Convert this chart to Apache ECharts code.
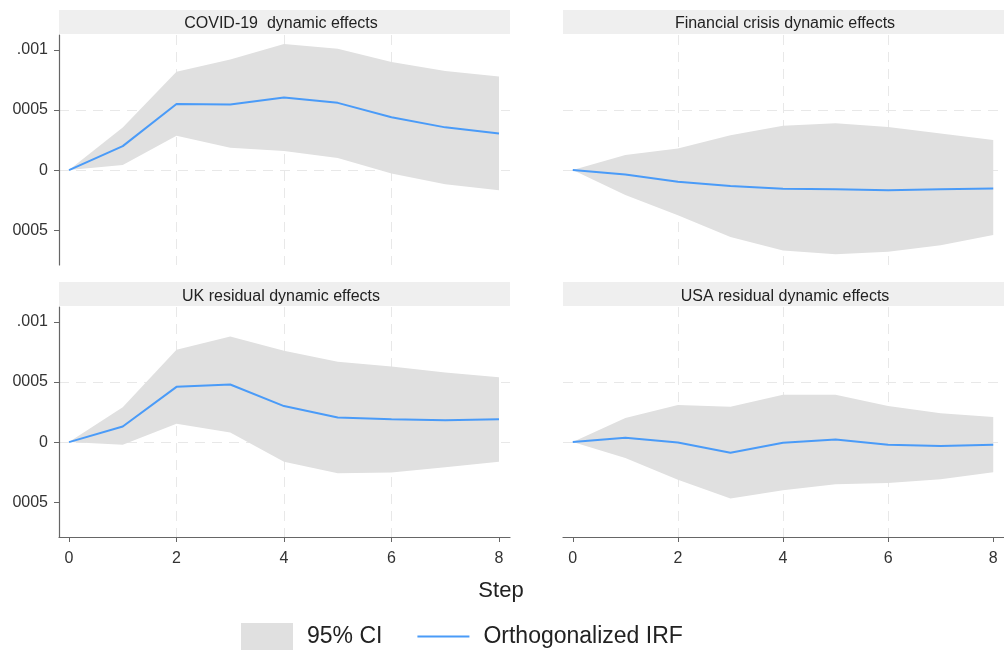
<!DOCTYPE html>
<html>
<head>
<meta charset="utf-8">
<script src="https://cdn.jsdelivr.net/npm/echarts@6/dist/echarts.min.js"></script>
<style>
html,body{margin:0;padding:0;background:#fff;}
#chart{width:1004px;height:653px;}
</style>
</head>
<body>
<div id="chart"></div>
<script>
// ---- data ----
var steps = [0, 1, 2, 3, 4, 5, 6, 7, 8];
var panelTitles = ['COVID-19  dynamic effects', 'Financial crisis dynamic effects', 'UK residual dynamic effects', 'USA residual dynamic effects'];

var covidIrf   = [0, 0.00020, 0.00055, 0.000547, 0.000605, 0.00056, 0.00044, 0.000356, 0.000305];
var covidUpper = [0, 0.000355, 0.00082, 0.00092, 0.00105, 0.00101, 0.00090, 0.000825, 0.00078];
var covidLower = [0, 0.000042, 0.000286, 0.000186, 0.00016, 0.00010, -0.000028, -0.000117, -0.000167];

var finIrf   = [0, -0.000036, -0.000097, -0.000133, -0.000156, -0.00016, -0.000167, -0.00016, -0.000153];
var finUpper = [0, 0.000125, 0.00018, 0.00029, 0.00037, 0.00039, 0.00036, 0.000305, 0.00025];
var finLower = [0, -0.000208, -0.000375, -0.000556, -0.00067, -0.00070, -0.00068, -0.000625, -0.00054];

var ukIrf   = [0, 0.00013, 0.00046, 0.00048, 0.00030, 0.000205, 0.00019, 0.000183, 0.00019];
var ukUpper = [0, 0.00029, 0.00077, 0.00088, 0.00076, 0.00067, 0.00063, 0.00058, 0.00054];
var ukLower = [0, -0.000022, 0.000153, 0.00008, -0.000164, -0.00026, -0.000253, -0.00021, -0.000164];

var usaIrf   = [0, 0.000036, -0.000003, -0.000089, -0.000006, 0.000022, -0.000022, -0.000033, -0.000022];
var usaUpper = [0, 0.00020, 0.00031, 0.000295, 0.000395, 0.000395, 0.00030, 0.00024, 0.00021];
var usaLower = [0, -0.000133, -0.000314, -0.00047, -0.00040, -0.00035, -0.00034, -0.00031, -0.00025];

var xTickValues = [0, 2, 4, 6, 8];
var yTickValues = [-0.0005, 0, 0.0005, 0.001];
var yTickLabels = ['0005', '0', '0005', '.001'];

// ---- layout ----
var panels = [
  {irf: covidIrf, up: covidUpper, lo: covidLower, left: 59, top: 35, showY: true, showX: false},
  {irf: finIrf, up: finUpper, lo: finLower, left: 563, top: 35, showY: false, showX: false},
  {irf: ukIrf, up: ukUpper, lo: ukLower, left: 59, top: 307, showY: true, showX: true},
  {irf: usaIrf, up: usaUpper, lo: usaLower, left: 563, top: 307, showY: false, showX: true}
];
var gridW = 451, gridH = 230;
var headerH = 24;

var FONT = 'Liberation Sans, Arial, sans-serif';
var bandColor = '#e0e0e0';
var lineColor = '#4a9bf8';
var axisColor = '#666666';
var gridLineColor = '#e8e8e8';

var grids = [], xAxes = [], yAxes = [], series = [], graphics = [];

function pairs(xs, ys) { return xs.map(function (x, i) { return [x, ys[i]]; }); }

panels.forEach(function (p, i) {
  grids.push({left: p.left, top: p.top, width: gridW, height: gridH, containLabel: false});
  xAxes.push({
    type: 'value', gridIndex: i, min: -0.186, max: 8.205,
    axisLine: {show: p.showX, onZero: false, lineStyle: {color: axisColor, width: 1.2}},
    axisTick: {show: p.showX, length: 5, customValues: xTickValues, lineStyle: {color: axisColor}},
    axisLabel: {show: p.showX, customValues: xTickValues, margin: 14, color: '#333', fontSize: 16, fontFamily: FONT},
    splitLine: {show: true, showMinLine: false, showMaxLine: false, lineStyle: {color: gridLineColor, type: [10, 7], width: 1}}
  });
  yAxes.push({
    type: 'value', gridIndex: i, min: -0.00079, max: 0.001125,
    axisLine: {show: p.showY, onZero: false, lineStyle: {color: axisColor, width: 1.2}},
    axisTick: {show: p.showY, length: 5, customValues: yTickValues, lineStyle: {color: axisColor}},
    axisLabel: {show: p.showY, customValues: yTickValues, margin: 11, color: '#333', fontSize: 16, fontFamily: FONT,
      formatter: function (v) {
        for (var k = 0; k < yTickValues.length; k++) { if (Math.abs(v - yTickValues[k]) < 1e-9) return yTickLabels[k]; }
        return '';
      }},
    splitLine: {show: true, showMinLine: false, showMaxLine: false, lineStyle: {color: gridLineColor, type: [10, 7], width: 1}}
  });
  var bandData = steps.map(function (s, k) { return [s, p.lo[k], p.up[k]]; });
  series.push({
    type: 'custom', name: '95% CI', xAxisIndex: i, yAxisIndex: i,
    itemStyle: {color: bandColor}, silent: true, z: 1,
    encode: {x: 0, y: [1, 2]},
    data: bandData,
    renderItem: (function (lo, up) {
      return function (params, api) {
        if (params.dataIndex !== 0) return null;
        var pts = [];
        for (var k = 0; k < steps.length; k++) pts.push(api.coord([steps[k], up[k]]));
        for (var k2 = steps.length - 1; k2 >= 0; k2--) pts.push(api.coord([steps[k2], lo[k2]]));
        return {type: 'polygon', shape: {points: pts}, style: {fill: bandColor}};
      };
    })(p.lo, p.up)
  });
  series.push({
    type: 'line', name: 'Orthogonalized IRF', xAxisIndex: i, yAxisIndex: i,
    symbol: 'none', itemStyle: {color: lineColor},
    lineStyle: {color: lineColor, width: 2}, data: pairs(steps, p.irf), z: 3
  });
  graphics.push({
    type: 'rect', left: p.left, top: p.top - headerH - 1,
    shape: {width: gridW, height: headerH}, style: {fill: '#efefef'}, silent: true
  });
  graphics.push({
    type: 'text', x: p.left + 222, y: p.top - headerH / 2 + (p.top > 100 ? 1.5 : 0.5),
    style: {text: panelTitles[i], fill: '#222', font: '16px ' + FONT, textAlign: 'center', textVerticalAlign: 'middle'},
    silent: true
  });
});

graphics.push({
  type: 'text', x: 501, y: 591,
  style: {text: 'Step', fill: '#222', font: '22px ' + FONT, textAlign: 'center', textVerticalAlign: 'middle'}
});

var chart = echarts.init(document.getElementById('chart'), null, {renderer: 'canvas'});
chart.setOption({
  animation: false,
  backgroundColor: '#ffffff',
  grid: grids,
  xAxis: xAxes,
  yAxis: yAxes,
  series: series,
  graphic: graphics,
  legend: {
    data: [{name: '95% CI', icon: 'rect'}, {name: 'Orthogonalized IRF', icon: 'path://M0,0H52V2H0Z'}],
    left: 236, top: 618,
    itemWidth: 52, itemHeight: 27, itemGap: 35,
    symbolKeepAspect: true,
    textStyle: {fontSize: 23, color: '#222', fontFamily: FONT, padding: [0, 0, 0, 9]},
    selectedMode: false
  }
});
</script>
</body>
</html>
